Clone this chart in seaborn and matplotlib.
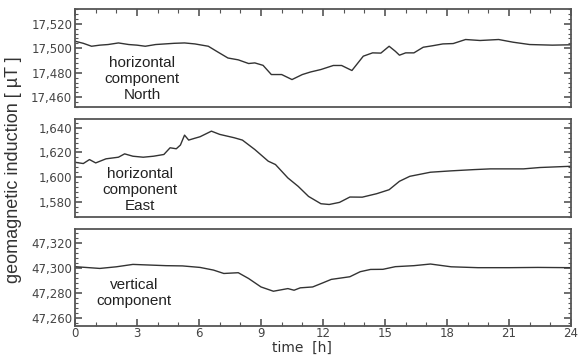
import matplotlib
matplotlib.use("Agg")
import matplotlib.pyplot as plt
import numpy as np
import pandas as pd
import seaborn as sns
from matplotlib.ticker import AutoMinorLocator, FuncFormatter, MultipleLocator

# --- data (hours, microtesla) ---
north_t = [0.0, 0.4, 0.8, 1.2, 1.6, 2.1, 2.6, 3.0, 3.4, 3.9, 4.35, 4.8, 5.3,
           5.8, 6.45, 6.9, 7.4, 7.9, 8.4, 8.7, 9.1, 9.5, 10.0, 10.5, 11.0, 11.4,
           11.9, 12.5, 12.9, 13.3, 13.4, 13.95, 14.4, 14.8, 15.2, 15.5, 15.7, 16.0,
           16.4, 16.85, 17.3, 17.8, 18.3, 18.9, 19.6, 20.5, 21.2, 22.0, 23.1, 24.0]
north_v = [17505.7, 17504.0, 17501.6, 17502.5, 17503.0, 17504.3, 17503.0, 17502.5,
           17501.6, 17503.0, 17503.5, 17504.0, 17504.3, 17503.5, 17501.6, 17497.0,
           17492.0, 17490.5, 17487.5, 17488.0, 17486.0, 17478.5, 17478.5, 17474.4,
           17478.5, 17480.6, 17482.6, 17485.9, 17485.9, 17482.6, 17481.8, 17493.5,
           17496.2, 17496.0, 17501.6, 17497.5, 17494.3, 17496.2, 17496.2, 17500.8,
           17502.0, 17503.5, 17503.8, 17507.1, 17506.3, 17507.1, 17504.9, 17503.0,
           17502.5, 17502.8]

east_t = [0.0, 0.4, 0.7, 1.0, 1.5, 2.1, 2.4, 2.8, 3.3, 3.8, 4.3, 4.6, 4.9, 5.1,
          5.3, 5.5, 5.8, 6.05, 6.6, 7.0, 7.7, 8.1, 8.7, 9.35, 9.7, 10.3, 10.8,
          11.3, 11.9, 12.3, 12.8, 13.3, 13.9, 14.6, 15.2, 15.7, 16.2, 17.2, 18.2,
          19.3, 20.1, 21.7, 22.5, 24.0]
east_v = [1612.1, 1611.1, 1614.3, 1611.6, 1614.9, 1616.2, 1618.9, 1617.0, 1616.2,
          1617.0, 1618.4, 1623.8, 1623.0, 1626.0, 1634.0, 1630.0, 1631.5, 1632.7,
          1637.2, 1634.6, 1631.9, 1630.0, 1622.4, 1613.0, 1610.3, 1599.5, 1592.7,
          1584.6, 1578.7, 1578.1, 1579.8, 1584.1, 1584.0, 1586.8, 1590.0, 1596.8,
          1600.8, 1604.1, 1605.2, 1606.2, 1606.8, 1606.8, 1607.9, 1608.9]

vert_t = [0.0, 1.2, 2.0, 2.8, 3.6, 4.4, 5.2, 6.05, 6.7, 7.2, 7.9, 8.4, 9.0, 9.6,
          10.3, 10.6, 10.9, 11.5, 12.0, 12.4, 13.3, 13.8, 14.3, 14.9, 15.5, 16.4,
          17.2, 18.2, 19.5, 21.0, 22.4, 24.0]
vert_v = [47301.1, 47299.7, 47301.0, 47302.9, 47302.4, 47301.9, 47301.7, 47300.5,
          47298.4, 47295.7, 47296.3, 47291.7, 47285.0, 47281.6, 47283.7, 47282.4,
          47284.3, 47285.0, 47288.3, 47291.0, 47293.1, 47297.1, 47298.9, 47299.0,
          47301.1, 47301.9, 47303.2, 47301.0, 47300.3, 47300.3, 47300.5, 47300.3]

panel_labels = ["horizontal\ncomponent\nNorth", "horizontal\ncomponent\nEast",
                "vertical\ncomponent"]
y_limits = [(17452, 17532), (1568, 1647), (47254, 47331)]
y_ticks = [[17460, 17480, 17500, 17520], [1580, 1600, 1620, 1640],
           [47260, 47280, 47300, 47320]]

LINE_COLOR = "#333333"
FRAME_COLOR = "#555555"
TICK_TEXT = "#444444"

sns.set_theme(style="ticks")
plt.rcParams["font.family"] = ["DejaVu Sans"]

fig = plt.figure(figsize=(5.87, 3.55), dpi=100)
rects = [
    (0.1278, 0.6986, 0.8449, 0.2760),
    (0.1278, 0.3887, 0.8449, 0.2761),
    (0.1278, 0.0817, 0.8449, 0.2732),
]
text_pos = [(142, 79), (140, 190), (134, 293)]

series = [(north_t, north_v), (east_t, east_v), (vert_t, vert_v)]
for i, ((t, v), rect) in enumerate(zip(series, rects)):
    ax = fig.add_axes(rect)
    df = pd.DataFrame({"t": t, "v": v})
    sns.lineplot(data=df, x="t", y="v", ax=ax, color=LINE_COLOR, linewidth=1.0)
    ax.set_xlim(0, 24)
    ax.set_ylim(*y_limits[i])
    ax.set_yticks(y_ticks[i])
    ax.yaxis.set_minor_locator(AutoMinorLocator(5))
    ax.xaxis.set_major_locator(MultipleLocator(3))
    ax.xaxis.set_minor_locator(MultipleLocator(1))
    ax.yaxis.set_major_formatter(FuncFormatter(lambda x, p: f"{x:,.0f}"))
    ax.set_xlabel("")
    ax.set_ylabel("")
    for sp in ax.spines.values():
        sp.set_visible(True)
        sp.set_color(FRAME_COLOR)
        sp.set_linewidth(1.3)
    ax.tick_params(axis="y", which="both", direction="in", left=True, right=True,
                   colors=FRAME_COLOR, labelcolor=TICK_TEXT, labelsize=8.5, pad=2)
    ax.tick_params(axis="y", which="major", length=5, width=1.2)
    ax.tick_params(axis="y", which="minor", length=2.5, width=0.8)
    ax.tick_params(axis="x", which="both", direction="in",
                   top=(i == 0), bottom=(i == 2), labelbottom=(i == 2),
                   colors=FRAME_COLOR, labelcolor=TICK_TEXT, labelsize=8.5, pad=1)
    ax.tick_params(axis="x", which="major", length=5, width=1.2)
    ax.tick_params(axis="x", which="minor", length=3, width=0.8)

    tx, ty = text_pos[i]
    fig.text(tx / 587, 1 - ty / 355, panel_labels[i], ha="center", va="center",
             fontsize=11, color="#222222", family=["Liberation Sans"],
             linespacing=1.15)

fig.text(14 / 587, 1 - 170 / 355, "geomagnetic induction [ µT ]", rotation=90,
         ha="center", va="center", fontsize=13, color="#333333",
         family=["Liberation Sans"])
# the reference crops this label at the bottom edge; keep it just inside
fig.text(302 / 587, 0.5 / 355, "time  [h]", ha="center", va="bottom",
         fontsize=10, color="#333333")

fig.savefig("out.png", dpi=100)
